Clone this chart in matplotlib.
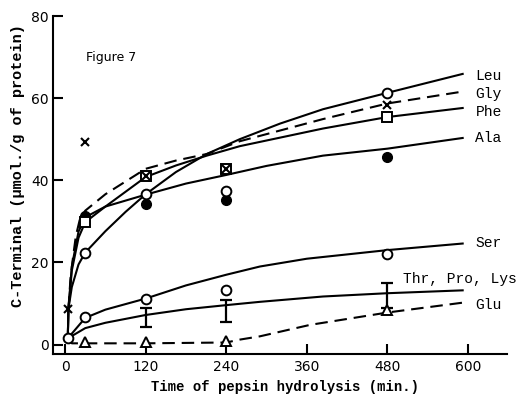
import matplotlib
matplotlib.use("Agg")
import matplotlib.pyplot as plt

# smooth curves, read at a handful of times (min)
leu_t = [4, 5, 10, 20, 30, 60, 90, 120, 165, 211, 260, 320, 384, 480, 592]
leu_y = [1.5, 8.7, 14, 19.5, 22.4, 27.6, 32.3, 36.6, 42, 46.4, 50, 53.8, 57.3, 61.3, 65.9]

gly_t = [5, 8, 12, 16, 22, 30, 60, 120, 165, 211, 260, 384, 480, 592]
gly_y = [8.7, 16, 21.5, 26.4, 30.5, 32.6, 36.6, 42.8, 44.8, 46.4, 49.5, 54.9, 58.7, 61.6]

phe_t = [4, 5, 10, 20, 30, 60, 120, 165, 211, 260, 384, 480, 592]
phe_y = [1.5, 8.7, 18, 26, 29.8, 33.6, 40.8, 43.6, 46, 48.3, 52.6, 55.4, 57.6]

ala_t = [4, 5, 10, 20, 30, 60, 120, 180, 240, 300, 384, 480, 592]
ala_y = [1.5, 8.7, 19, 27.5, 31, 33.6, 36.5, 39.2, 41.3, 43.5, 46, 47.7, 50.3]

ser_t = [4, 30, 60, 120, 180, 240, 290, 360, 480, 592]
ser_y = [1.5, 6.5, 8.5, 11.2, 14.4, 17.0, 19.0, 20.9, 23.0, 24.6]

thr_t = [4, 30, 60, 120, 180, 240, 290, 384, 480, 592]
thr_y = [1.5, 4.0, 5.3, 7.2, 8.6, 9.6, 10.4, 11.7, 12.5, 13.2]

glu_t = [4, 10, 30, 120, 240, 260, 290, 365, 480, 592]
glu_y = [1.5, 0.3, 0.3, 0.3, 0.5, 1.2, 2.0, 4.8, 7.8, 10.2]

# measured points
leu_pt = [30, 120, 240, 480]
leu_pv = [22.4, 36.6, 37.3, 61.3]
gly_pt = [5, 30, 120, 240, 480]
gly_pv = [8.7, 49.2, 41.1, 42.8, 58.3]
phe_pt = [30, 120, 240, 480]
phe_pv = [29.8, 41.1, 42.8, 55.3]
ala_pt = [30, 120, 240, 480]
ala_pv = [31.4, 34.2, 35.2, 45.6]
ser_pt = [4, 30, 120, 240, 480]
ser_pv = [1.5, 6.8, 11.1, 13.2, 22.1]
thr_pt = [120, 240, 480]
thr_pv = [6.6, 8.2, 11.9]
thr_err = [2.4, 2.6, 3.0]
glu_pt = [30, 120, 240, 480]
glu_pv = [0.6, 0.7, 0.9, 8.5]

names = ["Leu", "Gly", "Phe", "Ala", "Ser", "Glu"]
name_y = [65.5, 61.0, 56.6, 50.3, 24.8, 9.6]

fig = plt.figure(figsize=(5.22, 3.98), dpi=100)
ax = fig.add_axes([53 / 522, 44 / 398, 454 / 522, 338 / 398])

lw = 1.5
dash = (0, (6, 3.3))
k = dict(color="black", lw=lw, zorder=2)
ax.plot(leu_t, leu_y, **k)
ax.plot(gly_t, gly_y, ls=dash, **k)
ax.plot(phe_t, phe_y, **k)
ax.plot(ala_t, ala_y, **k)
ax.plot(ser_t, ser_y, **k)
ax.plot(thr_t, thr_y, **k)
ax.plot(glu_t, glu_y, ls=dash, **k)

ms = 7
ow = dict(ls="none", mfc="white", mec="black", mew=1.4, zorder=4)
ax.plot(leu_pt, leu_pv, "o", ms=ms, **ow)
ax.plot(ser_pt, ser_pv, "o", ms=ms, **ow)
ax.plot(phe_pt, phe_pv, "s", ms=6.5, **ow)
ax.plot(glu_pt, glu_pv, "^", ms=6.5, **ow)
ax.plot(ala_pt, ala_pv, "o", ms=ms, ls="none", color="black", zorder=3)
ax.plot(gly_pt, gly_pv, "x", ms=6, ls="none", color="black", mew=1.5, zorder=5)
ax.errorbar(thr_pt, thr_pv, yerr=thr_err, fmt="none", ecolor="black",
            elinewidth=1.6, capsize=4, capthick=1.6, zorder=3)

mono = "Liberation Mono"
for n, y in zip(names, name_y):
    ax.text(611, y, n, family=mono, fontsize=10.5, va="center", ha="left",
            clip_on=False)
ax.text(503, 16.0, "Thr, Pro, Lys", family=mono, fontsize=10.5,
        va="center", ha="left", clip_on=False)

ax.set_xlim(-18, 658)
ax.set_ylim(-2.3, 80)
ax.set_xticks([0, 120, 240, 360, 480, 600])
ax.set_yticks([0, 20, 40, 60, 80])
for s in ["top", "right"]:
    ax.spines[s].set_visible(False)
for s in ["left", "bottom"]:
    ax.spines[s].set_linewidth(1.5)
ax.spines["left"].set_bounds(-2.3, 80)
ax.tick_params(direction="in", length=7, width=1.5, labelsize=10, pad=4)
ax.tick_params(axis="y", pad=3)

fig.text(18 / 522, 1 - 166 / 398, "C-Terminal (\u03bcmol./g of protein)",
         family=mono, fontsize=11, fontweight="bold", rotation=90,
         ha="center", va="center")
fig.text(285 / 522, 1 - 387 / 398, "Time of pepsin hydrolysis (min.)",
         family=mono, fontsize=10, fontweight="bold", ha="center", va="center")
fig.text(86 / 522, 1 - 58 / 398, "Figure 7", fontsize=9, ha="left",
         va="center")

fig.savefig("out.png", dpi=100)
